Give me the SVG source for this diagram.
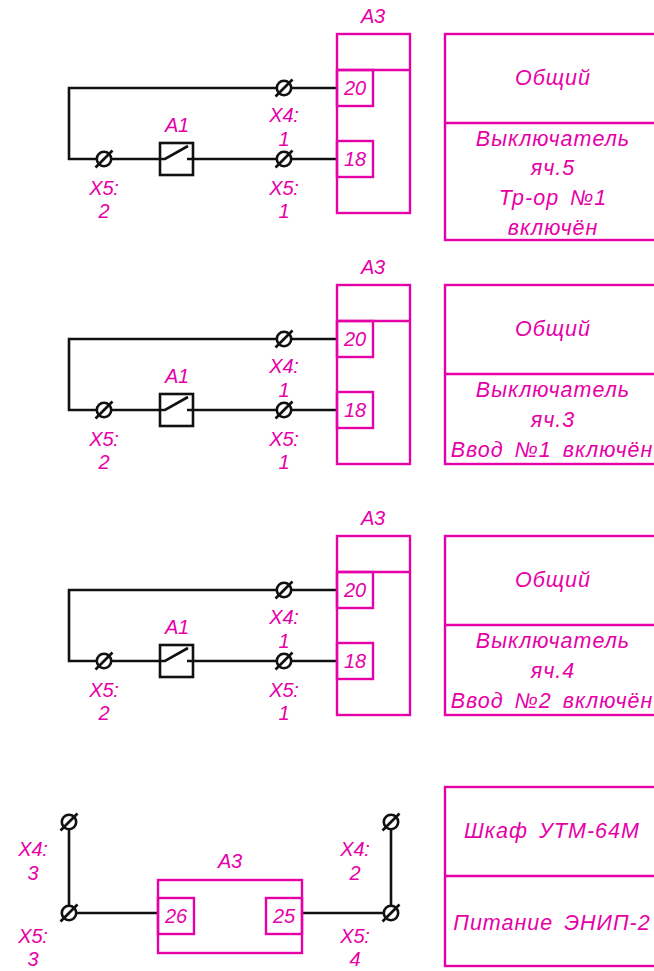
<svg xmlns="http://www.w3.org/2000/svg" width="654" height="971" viewBox="0 0 654 971">
<style>
.m{fill:none;stroke:#e600a8;stroke-width:2.4}
.k{fill:none;stroke:#111;stroke-width:2.6}
text{font-family:"Liberation Sans",Arial,sans-serif;font-style:italic;font-size:21.5px;fill:#e600a8;text-anchor:middle;letter-spacing:1px;word-spacing:4px}
.s{font-size:20px;letter-spacing:-.2px;word-spacing:0}
</style>
<defs>
<g id="term"><circle r="7.2" class="k"/><line x1="-8.5" y1="8.5" x2="8.5" y2="-8.5" class="k"/></g>
<g id="sw"><rect x="160" y="143" width="33" height="32" class="k"/><path d="M160 159H165L188 146M187 159H193" class="k"/></g>
</defs>
<rect width="654" height="971" fill="#fff"/>
<g id="connectors">
<path d="M277 88H69V159H97M111 159H160M193 159H277M291 88H337M291 159H337" class="k"/>
<path d="M277 339H69V410H97M111 410H160M193 410H277M291 339H337M291 410H337" class="k"/>
<path d="M277 590H69V661H97M111 661H160M193 661H277M291 590H337M291 661H337" class="k"/>
<path d="M69 829V906M76 913H158M391 829V906M302 913H384" class="k"/>
</g>
<g id="row1">
<g id="a3-1"><rect x="337" y="34" width="73" height="179" class="m"/><path d="M337 70H410" class="m"/><text class="s" x="373" y="23">А3</text></g>
<g id="t20-1"><rect x="337" y="70" width="36" height="36" class="m"/><text class="s" x="355" y="95">20</text></g>
<g id="t18-1"><rect x="337" y="141" width="36" height="36" class="m"/><text class="s" x="355" y="166">18</text></g>
<g id="a1-1"><use href="#sw"/><text class="s" x="177" y="132">А1</text></g>
<g id="x41-1"><use href="#term" x="284" y="88"/><text class="s" x="284" y="122">Х4:</text><text class="s" x="284" y="146">1</text></g>
<g id="x51-1"><use href="#term" x="284" y="159"/><text class="s" x="284" y="195">Х5:</text><text class="s" x="284" y="218">1</text></g>
<g id="x52-1"><use href="#term" x="104" y="159"/><text class="s" x="104" y="195">Х5:</text><text class="s" x="104" y="218">2</text></g>
<g id="label-1"><rect x="445" y="34" width="215" height="206" class="m"/><path d="M445 123H660" class="m"/>
<text x="553" y="85">Общий</text><text x="553" y="146">Выключатель</text><text x="553" y="175">яч.5</text><text x="553" y="205">Тр-ор №1</text><text x="553" y="235">включён</text></g>
</g>
<g id="row2">
<g id="a3-2"><rect x="337" y="285" width="73" height="179" class="m"/><path d="M337 321H410" class="m"/><text class="s" x="373" y="274">А3</text></g>
<g id="t20-2"><rect x="337" y="321" width="36" height="36" class="m"/><text class="s" x="355" y="346">20</text></g>
<g id="t18-2"><rect x="337" y="392" width="36" height="36" class="m"/><text class="s" x="355" y="417">18</text></g>
<g id="a1-2"><use href="#sw" y="251"/><text class="s" x="177" y="383">А1</text></g>
<g id="x41-2"><use href="#term" x="284" y="339"/><text class="s" x="284" y="373">Х4:</text><text class="s" x="284" y="397">1</text></g>
<g id="x51-2"><use href="#term" x="284" y="410"/><text class="s" x="284" y="446">Х5:</text><text class="s" x="284" y="469">1</text></g>
<g id="x52-2"><use href="#term" x="104" y="410"/><text class="s" x="104" y="446">Х5:</text><text class="s" x="104" y="469">2</text></g>
<g id="label-2"><rect x="445" y="285" width="215" height="179" class="m"/><path d="M445 374H660" class="m"/>
<text x="553" y="336">Общий</text><text x="553" y="397">Выключатель</text><text x="553" y="427">яч.3</text><text x="552" y="457">Ввод №1 включён</text></g>
</g>
<g id="row3">
<g id="a3-3"><rect x="337" y="536" width="73" height="179" class="m"/><path d="M337 572H410" class="m"/><text class="s" x="373" y="525">А3</text></g>
<g id="t20-3"><rect x="337" y="572" width="36" height="36" class="m"/><text class="s" x="355" y="597">20</text></g>
<g id="t18-3"><rect x="337" y="643" width="36" height="36" class="m"/><text class="s" x="355" y="668">18</text></g>
<g id="a1-3"><use href="#sw" y="502"/><text class="s" x="177" y="634">А1</text></g>
<g id="x41-3"><use href="#term" x="284" y="590"/><text class="s" x="284" y="624">Х4:</text><text class="s" x="284" y="648">1</text></g>
<g id="x51-3"><use href="#term" x="284" y="661"/><text class="s" x="284" y="697">Х5:</text><text class="s" x="284" y="720">1</text></g>
<g id="x52-3"><use href="#term" x="104" y="661"/><text class="s" x="104" y="697">Х5:</text><text class="s" x="104" y="720">2</text></g>
<g id="label-3"><rect x="445" y="536" width="215" height="179" class="m"/><path d="M445 625H660" class="m"/>
<text x="553" y="587">Общий</text><text x="553" y="648">Выключатель</text><text x="553" y="678">яч.4</text><text x="552" y="708">Ввод №2 включён</text></g>
</g>
<g id="row4">
<g id="a3-4"><rect x="158" y="880" width="144" height="73" class="m"/><text class="s" x="230" y="868">А3</text></g>
<g id="t26"><rect x="158" y="898" width="36" height="36" class="m"/><text class="s" x="176" y="923">26</text></g>
<g id="t25"><rect x="266" y="898" width="36" height="36" class="m"/><text class="s" x="284" y="923">25</text></g>
<g id="x43"><use href="#term" x="69" y="822"/><text class="s" x="33" y="856">Х4:</text><text class="s" x="33" y="880">3</text></g>
<g id="x53"><use href="#term" x="69" y="913"/><text class="s" x="33" y="943">Х5:</text><text class="s" x="33" y="966">3</text></g>
<g id="x42"><use href="#term" x="391" y="822"/><text class="s" x="355" y="856">Х4:</text><text class="s" x="355" y="880">2</text></g>
<g id="x54"><use href="#term" x="391" y="913"/><text class="s" x="355" y="943">Х5:</text><text class="s" x="355" y="966">4</text></g>
<g id="label-4"><rect x="445" y="787" width="215" height="179" class="m"/><path d="M445 876H660" class="m"/>
<text x="552" y="838">Шкаф УТМ-64М</text><text x="552" y="930">Питание ЭНИП-2</text></g>
</g>
</svg>
